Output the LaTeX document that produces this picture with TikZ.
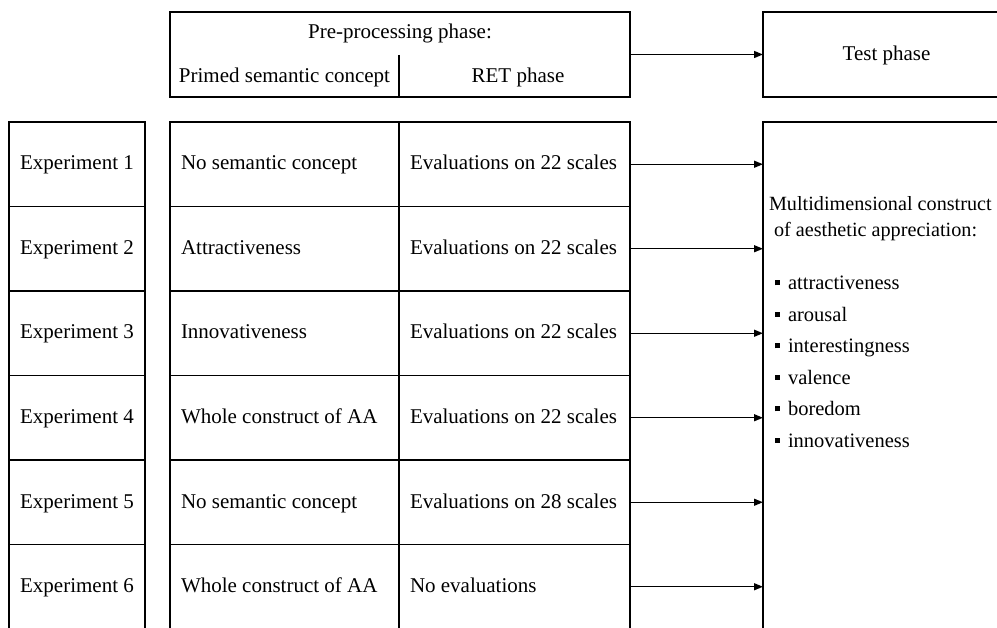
\documentclass[tikz,border=0pt]{standalone}
\usepackage{fontspec}
\setmainfont{Liberation Serif}
\usetikzlibrary{arrows.meta,calc}
\begin{document}
\begin{tikzpicture}[x=1pt,y=-1pt,line width=1.9pt,
  every node/.style={font=\fontsize{21}{25}\selectfont, inner sep=0pt, outer sep=0pt},
  lab/.style={text height=14pt, text depth=2.5pt},
  box/.style={draw, rectangle},
  expcell/.style={box, lab, minimum width=136pt, minimum height=84.5pt},
  acell/.style={box, minimum width=229pt, minimum height=84.5pt},
  bcell/.style={box, minimum width=231pt, minimum height=84.5pt},
  arr/.style={-{Triangle[length=9pt,width=7pt]}, line width=1.4pt},
  lt/.style={lab, anchor=west},
  txt/.style={anchor=base west, font=\fontsize{20.2}{24}\selectfont},
  bul/.style={anchor=base west, font=\fontsize{20.5}{24}\selectfont}]
\useasboundingbox (0,0) rectangle (997,628);
\clip (0,0) rectangle (997,628);
% header
\node[box, minimum width=460pt, minimum height=85pt] (pre) at (400,54.5) {};
\node[lab] (pretitle) at (400,33) {Pre-processing phase:};
\node[lab] (prim) at (284.5,77) {Primed semantic concept};
\node[lab] (ret) at (518,77) {RET phase};
\coordinate (divtop) at (399,55);
\draw (divtop) -- (divtop |- pre.south);
\node[box, lab, minimum width=247pt, minimum height=85pt] (test) at (886.5,54.5) {Test phase};
\draw[arr] (pre.east) -- (test.west);
% rows
\foreach \i/\ta/\tb in {1/No semantic concept/Evaluations on 22 scales,
  2/Attractiveness/Evaluations on 22 scales,
  3/Innovativeness/Evaluations on 22 scales,
  4/Whole construct of AA/Evaluations on 22 scales,
  5/No semantic concept/Evaluations on 28 scales,
  6/Whole construct of AA/No evaluations}{
  \node[expcell] (e\i) at (77,{164.25+(\i-1)*84.5}) {Experiment \i};
  \node[acell] (a\i) at (284.5,{164.25+(\i-1)*84.5}) {};
  \node[bcell] (b\i) at (514.5,{164.25+(\i-1)*84.5}) {};
  \node[lt] (ta\i) at ([xshift=11pt]a\i.west) {\ta};
  \node[lt] (tb\i) at ([xshift=11pt]b\i.west) {\tb};
}
% big box
\node[box, minimum width=247pt, minimum height=578pt] (big) at (886.5,411) {};
\foreach \i in {1,...,6}{
  \draw[arr] (b\i.east) -- (b\i.east -| big.west);
}
\node[txt] (m1) at (769,211) {Multidimensional construct};
\node[txt] (m2) at (769,237) {\ of aesthetic appreciation:};
\foreach \j/\w in {0/attractiveness,1/arousal,2/interestingness,3/valence,4/boredom,5/innovativeness}{
  \node[bul] (l\j) at (775,{290+\j*31.5}) {\rule[4.5pt]{5pt}{5pt}\hspace{8pt}\w};
}
\end{tikzpicture}
\end{document}
